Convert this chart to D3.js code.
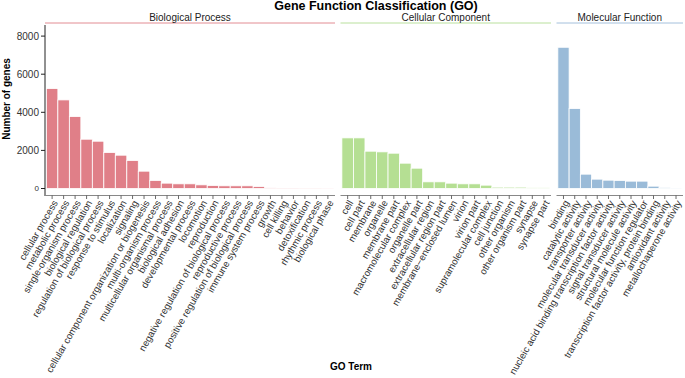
<!DOCTYPE html>
<html>
<head>
<meta charset="utf-8">
<script src="https://cdn.jsdelivr.net/npm/d3@7"></script>
<style>
  body { margin: 0; background: #fff; }
  text { font-family: "Liberation Sans", Arial, sans-serif; }
</style>
</head>
<body>
<div id="chart"></div>
<script>
// GO classification data
const bpTerms = ["cellular process", "metabolic process", "single-organism process", "biological regulation",
  "regulation of biological process", "response to stimulus", "localization", "signaling",
  "cellular component organization or biogenesis", "multi-organism process", "multicellular organismal process",
  "biological adhesion", "developmental process", "locomotion", "reproduction",
  "negative regulation of biological process", "reproductive process", "positive regulation of biological process",
  "immune system process", "growth", "cell killing", "behavior", "detoxification", "rhythmic process", "biological phase"];
const bpCounts = [5245, 4650, 3776, 2587, 2482, 1888, 1748, 1468, 909, 420, 280, 245, 245, 192, 157,
  140, 140, 140, 105, 30, 25, 25, 20, 20, 15];

const ccTerms = ["cell", "cell part", "membrane", "organelle", "membrane part", "macromolecular complex",
  "organelle part", "extracellular region", "extracellular region part", "membrane\u2212enclosed lumen", "virion",
  "virion part", "supramolecular complex", "cell junction", "other organism", "other organism part", "synapse", "synapse part"];
const ccCounts = [2657, 2657, 1958, 1923, 1853, 1329, 1066, 350, 350, 280, 245, 245, 175, 70, 70, 70, 35, 35];

const mfTerms = ["binding", "catalytic activity", "transporter activity", "molecular transducer activity",
  "nucleic acid binding transcription factor activity", "signal transducer activity", "structural molecule activity",
  "molecular function regulator", "transcription factor activity, protein binding", "antioxidant activity",
  "metallochaperone activity"];
const mfCounts = [7413, 4196, 752, 490, 437, 420, 385, 385, 122, 52, 17];

const panelNames = ["Biological Process", "Cellular Component", "Molecular Function"];
const panelColors = ["#E07F88", "#B5DF93", "#9ABBD8"];
const stripColors = ["#E28C93", "#B9E09D", "#A4C0DC"];
const yTicks = [0, 2000, 4000, 6000, 8000];

const width = 685, height = 378;
const panelExtents = [[45, 335], [340.5, 551], [556.5, 683]];
const yTop = 25, yBottom = 196;

const panels = panelNames.map((name, i) => ({
  name: name,
  terms: [bpTerms, ccTerms, mfTerms][i],
  counts: [bpCounts, ccCounts, mfCounts][i],
  color: panelColors[i],
  strip: stripColors[i],
  extent: panelExtents[i]
}));

const svg = d3.select("#chart").append("svg")
  .attr("width", width)
  .attr("height", height);

const y = d3.scaleLinear().domain([0, 8000]).range([188.5, 36.1]);

// title
svg.append("text")
  .attr("x", 376).attr("y", 9.5)
  .attr("text-anchor", "middle")
  .attr("font-size", 12.5).attr("font-weight", "bold")
  .text("Gene Function Classification (GO)");

// y axis
const yAxis = svg.append("g");
yAxis.append("line")
  .attr("x1", 45).attr("x2", 45)
  .attr("y1", yTop).attr("y2", yBottom)
  .attr("stroke", "#222").attr("stroke-width", 1);
yAxis.selectAll(".yt").data(yTicks).enter().append("line")
  .attr("x1", 41).attr("x2", 45)
  .attr("y1", d => y(d)).attr("y2", d => y(d))
  .attr("stroke", "#222");
yAxis.selectAll(".yl").data(yTicks).enter().append("text")
  .attr("x", 39).attr("y", d => y(d))
  .attr("dy", "0.35em")
  .attr("text-anchor", "end")
  .attr("font-size", d => d === 0 ? 8 : 10)
  .attr("fill", "#333")
  .text(d => d);

svg.append("text")
  .attr("transform", "translate(10,99) rotate(-90)")
  .attr("text-anchor", "middle")
  .attr("font-size", 10).attr("font-weight", "bold")
  .text("Number of genes");

svg.append("text")
  .attr("x", 351).attr("y", 370)
  .attr("text-anchor", "middle")
  .attr("font-size", 10).attr("font-weight", "bold")
  .text("GO Term");

panels.forEach(p => {
  const x = d3.scaleBand()
    .domain(p.terms)
    .range(p.extent)
    .paddingInner(0)
    .paddingOuter(0.12);
  const g = svg.append("g");

  // strip
  g.append("line")
    .attr("x1", p.extent[0]).attr("x2", p.extent[1])
    .attr("y1", 23).attr("y2", 23)
    .attr("stroke", p.strip).attr("stroke-width", 1);
  g.append("text")
    .attr("x", (p.extent[0] + p.extent[1]) / 2).attr("y", 17)
    .attr("dy", "0.35em")
    .attr("text-anchor", "middle")
    .attr("font-size", 10).attr("fill", "#222")
    .text(p.name);

  // bars
  g.selectAll("rect").data(p.terms).enter().append("rect")
    .attr("x", d => x(d))
    .attr("width", x.bandwidth())
    .attr("y", (d, i) => y(p.counts[i]))
    .attr("height", (d, i) => y(0) - y(p.counts[i]))
    .attr("fill", p.color)
    .attr("stroke", "#fff").attr("stroke-width", 0.8);

  // x axis
  g.append("line")
    .attr("x1", p.extent[0]).attr("x2", p.extent[1])
    .attr("y1", 195.5).attr("y2", 195.5)
    .attr("stroke", "#888").attr("stroke-width", 1);
  g.selectAll(".xt").data(p.terms).enter().append("line")
    .attr("x1", d => x(d) + x.bandwidth() / 2).attr("x2", d => x(d) + x.bandwidth() / 2)
    .attr("y1", 195.5).attr("y2", 199)
    .attr("stroke", "#444").attr("stroke-width", 0.8);
  g.selectAll(".xl").data(p.terms).enter().append("text")
    .attr("transform", d => `translate(${x(d) + x.bandwidth() / 2 + 3},${201}) rotate(-60)`)
    .attr("text-anchor", "end")
    .attr("dy", "0.35em")
    .attr("font-size", 9.7)
    .attr("fill", "#333")
    .text(d => d);
});
</script>
</body>
</html>
